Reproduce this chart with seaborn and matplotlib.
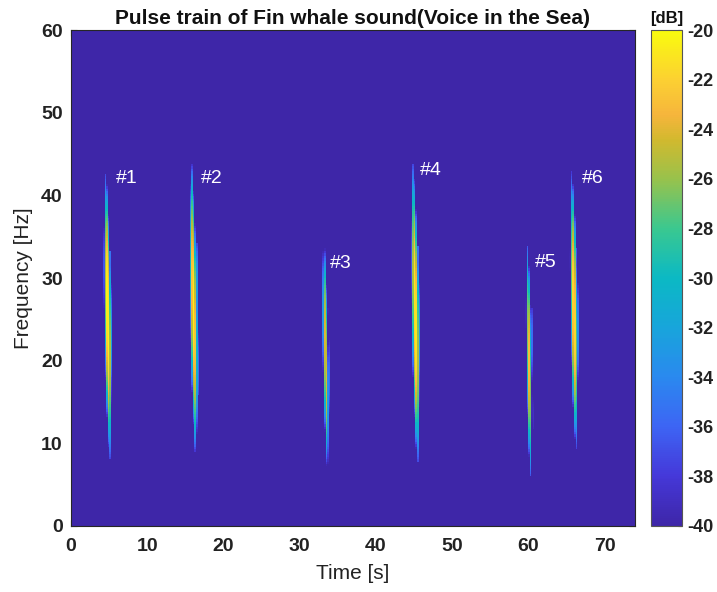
import numpy as np
import pandas as pd
import matplotlib
matplotlib.use("Agg")
import matplotlib.pyplot as plt
import seaborn as sns
from matplotlib.colors import LinearSegmentedColormap

# ---------------- data ----------------
pulse_labels = ["#1", "#2", "#3", "#4", "#5", "#6"]
pulse_time = [4.8, 16.1, 33.4, 45.2, 60.1, 66.0]          # s
pulse_fmin = [8.1, 9.0, 6.8, 7.8, 6.0, 9.2]               # Hz
pulse_fmax = [42.7, 43.7, 34.0, 43.7, 34.0, 42.8]         # Hz
pulse_peak_db = [-20.0, -20.4, -23.3, -20.4, -23.0, -21.2]
pulse_width = [0.11, 0.11, 0.06, 0.11, 0.07, 0.10]        # s
label_time = [5.9, 17.0, 34.0, 45.8, 60.9, 67.1]
label_freq = [42.0, 42.0, 31.8, 43.0, 31.9, 42.0]
x_ticks = [0, 10, 20, 30, 40, 50, 60, 70]
y_ticks = [0, 10, 20, 30, 40, 50, 60]
cbar_ticks = [-40, -38, -36, -34, -32, -30, -28, -26, -24, -22, -20]
t_max, f_max = 74.0, 60.0
db_min, db_max = -40, -20

# ---------------- spectrogram grid ----------------
dt, df = 0.2, 0.3
t = np.arange(0, t_max, dt) + dt / 2
f = np.arange(0, f_max, df) + df / 2
T, F = np.meshgrid(t, f)
S = np.full(T.shape, -45.0)
for tc, fmin, fmax, pk, w in zip(pulse_time, pulse_fmin, pulse_fmax,
                                 pulse_peak_db, pulse_width):
    fc = (fmin + fmax) / 2
    half = (fmax - fmin) / 2
    u = (F - fc) / half
    inside = np.abs(u) <= 1
    shape = np.clip(1 - np.abs(u) ** 2.4, 0, None)
    L = np.where(inside, -37.0 + (pk + 37.0) * shape, -60)
    t0 = tc + 0.015 * (fc - F)
    width = 0.08 + w * shape
    main = L - 3.0 * ((T - t0) / width) ** 2
    sec_in = (u > -0.6) & (u < 0.45)
    sec = np.where(sec_in, L - 12 - 6.0 * ((T - (t0 + 0.45)) / 0.1) ** 2, -60)
    S = np.maximum(S, np.maximum(main, sec))
S = np.clip(S, db_min, db_max)
spec = pd.DataFrame(S[::-1], index=f[::-1], columns=t)

# ---------------- parula-like colormap ----------------
parula_pts = [
    (0.00, "#3e26a8"), (0.10, "#4538d9"), (0.20, "#3d65f4"), (0.30, "#2a89ef"),
    (0.40, "#18a5db"), (0.50, "#0bb9c4"), (0.60, "#3ac890"), (0.70, "#98c24c"),
    (0.78, "#d2b92e"), (0.83, "#f6b53c"), (0.90, "#fcd032"), (1.00, "#f9fb0e"),
]
parula = LinearSegmentedColormap.from_list("parula", parula_pts, N=256)

# ---------------- figure ----------------
sns.set_theme(style="white")
plt.rcParams["font.family"] = ["Liberation Sans", "DejaVu Sans"]

fig = plt.figure(figsize=(7.17, 5.92), dpi=100)
ax = fig.add_axes([0.099, 0.1115, 0.7866, 0.8378])
cax = fig.add_axes([0.908, 0.1115, 0.0432, 0.8378])

sns.heatmap(spec, ax=ax, cmap=parula, vmin=db_min, vmax=db_max,
            cbar_ax=cax, xticklabels=False, yticklabels=False,
            rasterized=True)

for s in ax.spines.values():
    s.set_visible(True)
    s.set_color("#262626")
    s.set_linewidth(0.8)

ax.set_xticks([x / dt for x in x_ticks])
ax.set_xticklabels([str(x) for x in x_ticks], rotation=0)
ax.set_yticks([(f_max - y) / df for y in y_ticks])
ax.set_yticklabels([str(y) for y in y_ticks], rotation=0)
ax.tick_params(axis="both", direction="in", length=4, width=0.8,
               color="#262626", labelsize=14, labelcolor="#222222",
               top=True, right=True, bottom=True, left=True)
ax.tick_params(axis="x", pad=9)
ax.tick_params(axis="y", pad=6)
for lab in ax.get_xticklabels() + ax.get_yticklabels():
    lab.set_fontweight("bold")

ax.set_xlabel("Time [s]", fontsize=15, color="#222222", labelpad=6)
ax.set_ylabel("Frequency [Hz]", fontsize=15, color="#222222", labelpad=6)
ax.set_title("Pulse train of Fin whale sound(Voice in the Sea)",
             fontsize=15, fontweight="bold", color="#111111", pad=4)

for lab, lt, lf in zip(pulse_labels, label_time, label_freq):
    ax.text(lt / dt, (f_max - lf) / df, lab, color="white", fontsize=14,
            ha="left", va="center")

cb = ax.collections[0].colorbar
cb.set_ticks(cbar_ticks)
cb.set_ticklabels([str(v) for v in cbar_ticks])
cb.outline.set_edgecolor("#555555")
cb.outline.set_linewidth(0.8)
cax.tick_params(direction="in", length=3, width=0.8, color="#333333",
                labelsize=13, labelcolor="#222222", pad=4)
for lab in cax.get_yticklabels():
    lab.set_fontweight("bold")
cax.set_title("[dB]", fontsize=12, fontweight="bold", color="#111111", pad=5)

fig.savefig("out.png", dpi=100)
